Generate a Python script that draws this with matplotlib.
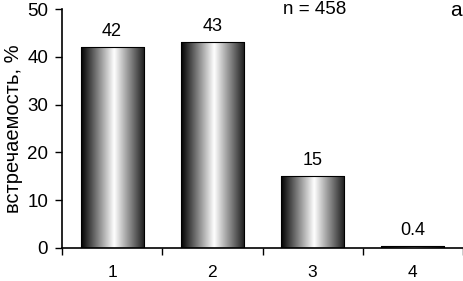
import numpy as np
import matplotlib.pyplot as plt
from matplotlib.colors import LinearSegmentedColormap

categorie = ['1', '2', '3', '4']
valori = [42, 43, 15, 0.4]
etichette = ['42', '43', '15', '0.4']

plt.rcParams['font.family'] = ['Liberation Sans', 'DejaVu Sans']

fig = plt.figure(figsize=(4.63, 2.81), dpi=100)
ax = fig.add_axes([62 / 463, 33 / 281, 401 / 463, 239 / 281])

x = np.arange(len(categorie))
larghezza = 0.63

# gradiente cilindrico: nero a sinistra, bianco al centro, scuro a destra
cmap = LinearSegmentedColormap.from_list(
    'cil', [(0.0, '#000000'), (0.52, '#ffffff'), (1.0, '#1a1a1a')])
grad = np.linspace(0, 1, 256).reshape(1, -1)

barre = ax.bar(x, valori, width=larghezza, color='none', edgecolor='black',
               linewidth=0.8, zorder=3)
for b in barre:
    x0, y0 = b.get_x(), b.get_y()
    w, h = b.get_width(), b.get_height()
    img = ax.imshow(grad, cmap=cmap, aspect='auto', extent=[x0, x0 + w, y0, y0 + h],
                    zorder=2, interpolation='bicubic')
    img.set_clip_path(b)

for xi, v, t in zip(x, valori, etichette):
    ax.text(xi, v + 1.5, t, ha='center', va='bottom', fontsize=13)

ax.set_xlim(-0.5, len(categorie) - 0.5)
ax.set_ylim(0, 50)
ax.set_yticks(range(0, 51, 10))
ax.set_xticks(x)
ax.set_xticklabels(categorie)
ax.set_xticks(np.arange(-0.5, len(categorie), 1), minor=True)
ax.tick_params(axis='x', which='major', length=0, pad=12.5, labelsize=12.5)
ax.tick_params(axis='x', which='minor', length=5, direction='out', width=1)
ax.tick_params(axis='y', length=5, direction='out', width=1, labelsize=13.5, pad=5)

ax.spines['top'].set_visible(False)
ax.spines['right'].set_visible(False)
ax.spines['left'].set_linewidth(1.2)
ax.spines['bottom'].set_linewidth(1.2)

ax.set_ylabel('встречаемость, %', fontsize=14.5, labelpad=3)

fig.text(315 / 463, 1 - 10 / 281, 'n = 458', ha='center', va='center', fontsize=13.5)
fig.text(456 / 463, 1 - 11 / 281, 'a', ha='center', va='center', fontsize=15)

fig.savefig('out.png', dpi=100)
